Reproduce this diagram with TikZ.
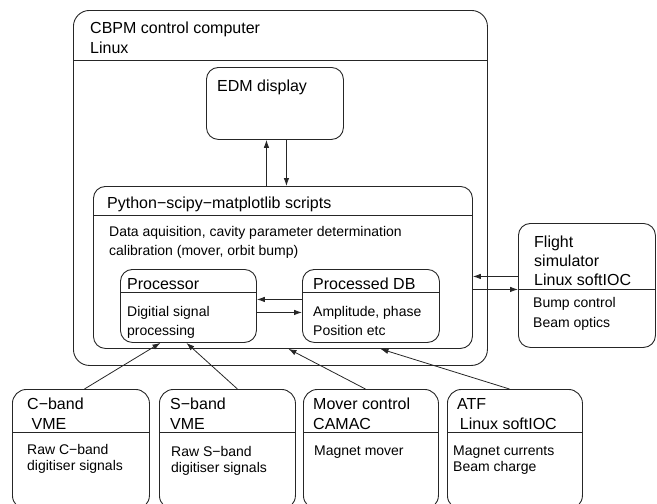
\documentclass[tikz,border=0pt]{standalone}
\usepackage{fontspec}
\setmainfont{Liberation Sans}
\usetikzlibrary{arrows.meta}

\begin{document}
\begin{tikzpicture}[x=1pt,y=-1pt]
\tikzset{box/.style = {draw=black!85, line width=0.9pt, rounded corners=12pt, anchor=north west, inner sep=0pt}}
\tikzset{sep/.style = {draw=black!85, line width=0.9pt}}
\tikzset{title/.style = {anchor=base west, align=left, inner sep=0pt, font=\fontsize{16}{20}\selectfont}}
\tikzset{body/.style = {anchor=base west, align=left, inner sep=0pt, font=\fontsize{14}{19}\selectfont}}
\tikzset{edge/.style = {-{Latex[length=8pt,width=5.5pt]}, draw=black!85, line width=0.8pt}}
\useasboundingbox (0,0) rectangle (657,504);
\clip (0,0) rectangle (657,504);
\node[box, rounded corners=16pt, minimum width=414pt, minimum height=355pt](cbpm) at (73,10) {};
\node[box, minimum width=137pt, minimum height=72pt](edm) at (206,67) {};
\node[box, minimum width=379pt, minimum height=162pt](py) at (93,186) {};
\node[box, minimum width=136pt, minimum height=73pt](proc) at (120,269) {};
\node[box, minimum width=137pt, minimum height=73pt](db) at (302,269) {};
\node[box, minimum width=137pt, minimum height=124pt](fs) at (518,223) {};
\node[box, rounded corners=14pt, minimum width=137pt, minimum height=120pt](cb) at (12,389) {};
\node[box, rounded corners=14pt, minimum width=136pt, minimum height=120pt](sb) at (159,389) {};
\node[box, rounded corners=14pt, minimum width=135pt, minimum height=120pt](mc) at (303,389) {};
\node[box, rounded corners=14pt, minimum width=135pt, minimum height=120pt](atf) at (447,389) {};
\draw[sep] ([yshift=-50pt]cbpm.north west) -- ([yshift=-50pt]cbpm.north east);
\draw[sep] ([yshift=-29pt]py.north west) -- ([yshift=-29pt]py.north east);
\draw[sep] ([yshift=-23pt]proc.north west) -- ([yshift=-23pt]proc.north east);
\draw[sep] ([yshift=-23pt]db.north west) -- ([yshift=-23pt]db.north east);
\draw[sep] ([yshift=-66pt]fs.north west) -- ([yshift=-66pt]fs.north east);
\draw[sep] ([yshift=-43pt]cb.north west) -- ([yshift=-43pt]cb.north east);
\draw[sep] ([yshift=-43pt]sb.north west) -- ([yshift=-43pt]sb.north east);
\draw[sep] ([yshift=-43pt]mc.north west) -- ([yshift=-43pt]mc.north east);
\draw[sep] ([yshift=-43pt]atf.north west) -- ([yshift=-43pt]atf.north east);
\node[title](cbpmtxt) at (90,53) {CBPM control computer\\Linux};
\node[title](edmtxt) at (217,91) {EDM display};
\node[title](pytxt) at (107,208) {Python−scipy−matplotlib scripts};
\node[body](pybody) at (109,255) {Data aquisition, cavity parameter determination\\calibration (mover, orbit bump)};
\node[title](proctxt) at (127,289) {Processor};
\node[body](procbody) at (127,335) {Digitial signal\\processing};
\node[title](dbtxt) at (313,289) {Processed DB};
\node[body](dbbody) at (313,335) {Amplitude, phase\\Position etc};
\node[title, font=\fontsize{16}{19}\selectfont](fstxt) at (534,285) {Flight\\simulator\\Linux softIOC};
\node[body, font=\fontsize{14}{20}\selectfont](fsbody) at (533,327) {Bump control\\Beam optics};
\node[title](cbtxt) at (27,429) {C−band\\\ VME};
\node[body, font=\fontsize{14}{16}\selectfont](cbbody) at (27,470) {Raw C−band\\digitiser signals};
\node[title](sbtxt) at (170,429) {S−band\\VME};
\node[body, font=\fontsize{14}{16}\selectfont](sbbody) at (171,472) {Raw S−band\\digitiser signals};
\node[title](mctxt) at (313,429) {Mover control\\CAMAC};
\node[body, font=\fontsize{14}{16}\selectfont](mcbody) at (314,455) {Magnet mover};
\node[title](atftxt) at (457,429) {ATF\\\,Linux softIOC};
\node[body, font=\fontsize{14}{16}\selectfont](atfbody) at (453,471) {Magnet currents\\Beam charge};
\draw[edge] ([xshift=-8.5pt]edm.south |- py.north) -- ([xshift=-8.5pt]edm.south);
\draw[edge] ([xshift=11.5pt]edm.south) -- ([xshift=11.5pt]edm.south |- py.north);
\draw[edge] ([yshift=6.5pt]db.west) -- ([yshift=6.5pt]db.west -| proc.east);
\draw[edge] ([yshift=-6.5pt]proc.east) -- ([yshift=-6.5pt]proc.east -| db.west);
\draw[edge] ([yshift=9pt]fs.west) -- ([yshift=9pt]fs.west -| py.east);
\draw[edge] ([yshift=-4pt]fs.west -| py.east) -- ([yshift=-4pt]fs.west);
\draw[edge] ([xshift=3.5pt]cb.north) -- ([xshift=-28pt]proc.south);
\draw[edge] ([xshift=10pt]sb.north) -- ([xshift=-2pt]proc.south);
\draw[edge] ([xshift=-5.5pt]mc.north) -- ([xshift=5.5pt]py.south);
\draw[edge] ([xshift=-5.5pt]atf.north) -- ([xshift=97.5pt]py.south);
\end{tikzpicture}
\end{document}
